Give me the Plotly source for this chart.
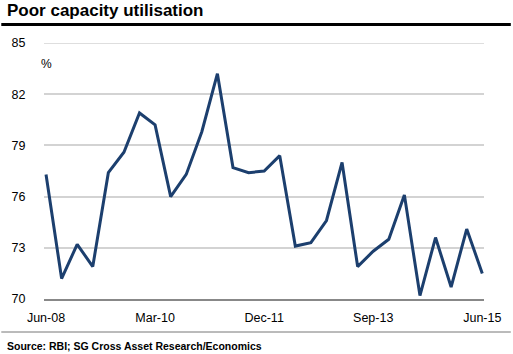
import plotly.graph_objects as go

quarters = ["Jun-08", "Sep-08", "Dec-08", "Mar-09", "Jun-09", "Sep-09", "Dec-09",
            "Mar-10", "Jun-10", "Sep-10", "Dec-10", "Mar-11", "Jun-11", "Sep-11",
            "Dec-11", "Mar-12", "Jun-12", "Sep-12", "Dec-12", "Mar-13", "Jun-13",
            "Sep-13", "Dec-13", "Mar-14", "Jun-14", "Sep-14", "Dec-14", "Mar-15",
            "Jun-15"]
utilisation = [77.3, 71.2, 73.2, 71.9, 77.4, 78.6, 80.9, 80.2, 76.0, 77.3,
               79.8, 83.2, 77.7, 77.4, 77.5, 78.4, 73.1, 73.3, 74.6, 78.0,
               71.9, 72.8, 73.5, 76.1, 70.2, 73.6, 70.7, 74.1, 71.5]
tick_labels = ["Jun-08", "Mar-10", "Dec-11", "Sep-13", "Jun-15"]
y_ticks = [70, 73, 76, 79, 82, 85]

fig = go.Figure()
fig.add_trace(go.Scatter(x=quarters, y=utilisation, mode="lines",
                         line=dict(color="#1C3F6E", width=3), hoverinfo="skip"))

font = "Liberation Sans, Arial, sans-serif"
fig.update_layout(
    width=513, height=354,
    margin=dict(l=43, r=27, t=43, b=55),
    paper_bgcolor="white", plot_bgcolor="white",
    showlegend=False,
    font=dict(family=font, size=12, color="black"),
    xaxis=dict(type="category", categoryorder="array", categoryarray=quarters,
               range=[-0.13, 28.11], tickmode="array", tickvals=tick_labels,
               ticktext=tick_labels, showgrid=False, showline=True,
               linecolor="#888888", linewidth=1.5, ticks="outside",
               ticklen=6, tickcolor="rgba(0,0,0,0)", tickfont=dict(size=12.5)),
    yaxis=dict(range=[70, 85], tickvals=y_ticks, showgrid=True,
               gridcolor="#D3D3D3", gridwidth=1.5, zeroline=False,
               ticks="outside", ticklen=15, tickcolor="rgba(0,0,0,0)",
               tickfont=dict(size=12.5)),
    shapes=[
        dict(type="line", xref="paper", yref="y", x0=0, x1=1, y0=85, y1=85,
             line=dict(color="#D3D3D3", width=1.5), layer="below"),
        dict(type="line", xref="paper", yref="paper", x0=-43/443, x1=(513-43)/443,
             y0=(354-55-24.5)/256, y1=(354-55-24.5)/256,
             line=dict(color="black", width=3)),
        dict(type="line", xref="paper", yref="paper", x0=-43/443, x1=(513-43)/443,
             y0=-(332-299)/256, y1=-(332-299)/256,
             line=dict(color="#777777", width=1)),
    ],
    annotations=[
        dict(text="<b>Poor capacity utilisation</b>", xref="paper", yref="paper",
             x=-39/443, y=(299-10)/256, xanchor="left", yanchor="middle",
             showarrow=False, font=dict(size=17, family=font)),
        dict(text="%", xref="paper", yref="paper", x=-5/443, y=(299-64)/256,
             xanchor="left", yanchor="middle", showarrow=False,
             font=dict(size=12, family=font)),
        dict(text="<b>Source: RBI; SG Cross Asset Research/Economics</b>",
             xref="paper", yref="paper", x=-39/443, y=-(346-299)/256,
             xanchor="left", yanchor="middle", showarrow=False,
             font=dict(size=10.5, family=font)),
    ],
)

fig.write_html("out.html")
